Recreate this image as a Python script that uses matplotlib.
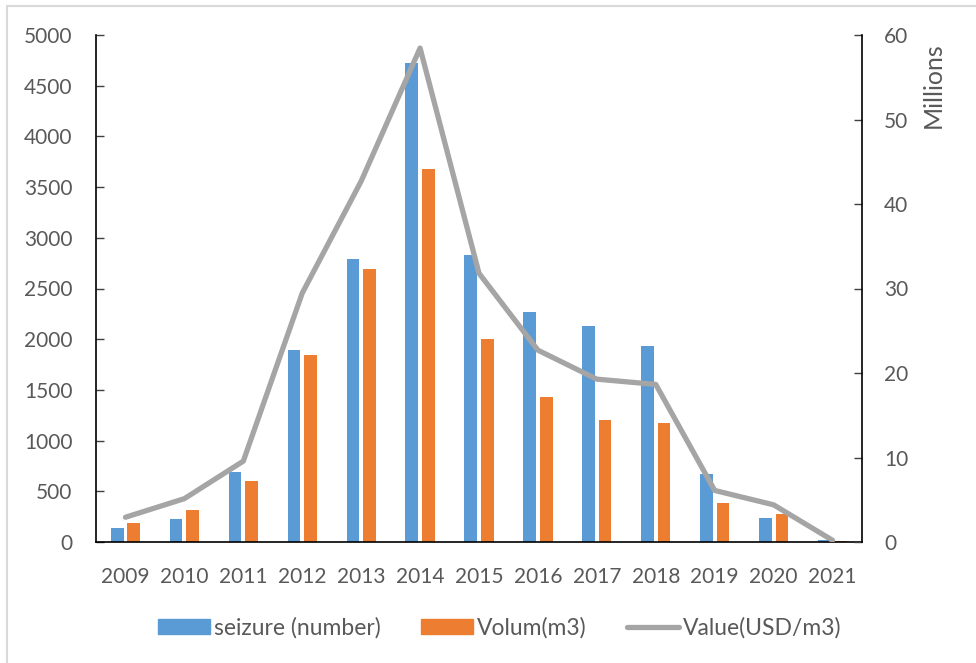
import matplotlib.pyplot as plt
from matplotlib.patches import Rectangle
from matplotlib.lines import Line2D
from matplotlib.patches import Patch
import numpy as np

years = ["2009", "2010", "2011", "2012", "2013", "2014", "2015",
         "2016", "2017", "2018", "2019", "2020", "2021"]
seizure = [136, 224, 686, 1891, 2794, 4722, 2828, 2268, 2132, 1935, 669, 241, 24]
volume = [187, 316, 597, 1847, 2692, 3680, 1999, 1426, 1208, 1171, 380, 275, 5]
value_musd = [2.93, 5.13, 9.57, 29.45, 42.7, 58.45, 31.8, 22.7, 19.27, 18.65, 6.1, 4.4, 0.2]

blue = '#5B9BD5'
orange = '#ED7D31'
grey = '#A5A5A5'
txt = '#595959'

plt.rcParams['font.family'] = ['Lato', 'DejaVu Sans']
fs = 15
lfs = 16.5

W, H = 976, 663
fig = plt.figure(figsize=(W / 100, H / 100), dpi=100)

# outer chart frame (only left and top edges show)
fig.patches.append(Rectangle((7 / W, -0.1), 1.2, 1 - 6 / H + 0.1, transform=fig.transFigure,
                             fill=False, edgecolor='#D9D9D9', linewidth=1.5))

l, r, t, b = 96, 862, 35, 542
ax = fig.add_axes([l / W, 1 - b / H, (r - l) / W, (b - t) / H])

x = np.arange(len(years))
bw = 0.215
ax.bar(x - 0.14, seizure, bw, color=blue, zorder=2)
ax.bar(x + 0.14, volume, bw, color=orange, zorder=2)

ax.set_xlim(-0.5, len(years) - 0.5)
ax.set_ylim(0, 5000)
ax.set_yticks(np.arange(0, 5001, 500))
ax.set_xticks(x)
ax.set_xticklabels(years)
ax.tick_params(axis='y', direction='in', length=6, width=1, color='#404040',
               pad=17, labelsize=fs, labelcolor=txt)
ax.tick_params(axis='x', length=0, pad=18, labelsize=fs, labelcolor=txt)
ax.spines['top'].set_visible(False)
ax.spines['right'].set_visible(False)
for s in ['left', 'bottom']:
    ax.spines[s].set_color('black')
    ax.spines[s].set_linewidth(1.2)

ax2 = ax.twinx()
ax2.plot(x, value_musd, color=grey, linewidth=3.8, solid_capstyle='round', zorder=3)
ax2.set_ylim(0, 60)
ax2.set_yticks(np.arange(0, 61, 10))
ax2.tick_params(axis='y', direction='in', length=6, width=1, color='#404040',
                pad=16, labelsize=fs, labelcolor=txt)
for s in ['top', 'left', 'bottom']:
    ax2.spines[s].set_visible(False)
ax2.spines['right'].set_color('black')
ax2.spines['right'].set_linewidth(1.2)

fig.text(933 / W, 1 - 85 / H, 'Millions', rotation=90, ha='center', va='center',
         fontsize=18, color=txt)

handles = [Patch(color=blue), Patch(color=orange),
           Line2D([0], [0], color=grey, linewidth=3.8, solid_capstyle='round')]
labels = ['seizure (number)', 'Volum(m3)', 'Value(USD/m3)']
leg = fig.legend(handles, labels, loc='center', bbox_to_anchor=(500 / W, 1 - 628 / H),
                 ncol=3, frameon=False, fontsize=lfs, handlelength=2.27, handleheight=0.61,
                 handletextpad=0.18, columnspacing=1.75, labelcolor=txt)

fig.savefig('out.png', dpi=100)
